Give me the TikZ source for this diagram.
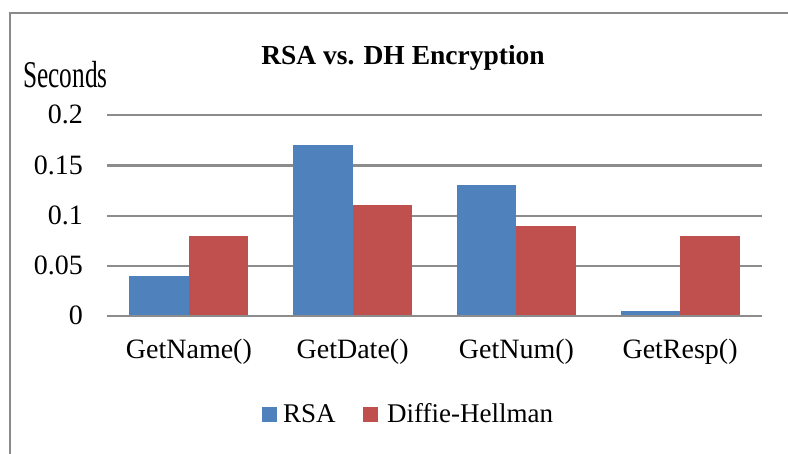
\documentclass[tikz,border=0pt]{standalone}
\usepackage{fontspec}
\setmainfont{Liberation Serif}
\definecolor{rsablue}{HTML}{4F81BD}
\definecolor{dhred}{HTML}{C0504D}
\definecolor{gridgray}{HTML}{8C8C8C}
\definecolor{framegray}{HTML}{8A8A8A}
\tikzset{
  gridline/.style={draw=gridgray, line width=2.2pt},
  rsabar/.style={fill=rsablue},
  dhbar/.style={fill=dhred},
  ticklab/.style={anchor=base east, inner sep=0pt, font=\fontsize{28}{30}\selectfont},
  catlab/.style={anchor=base, inner sep=0pt, font=\fontsize{28}{30}\selectfont},
  leglab/.style={anchor=base west, inner sep=0pt, font=\fontsize{27}{30}\selectfont},
}
\begin{document}
\begin{tikzpicture}[x=1pt,y=-1pt]
\useasboundingbox (0,0) rectangle (788,454);
\fill[white] (0,0) rectangle (788,454);
% frame
\draw[framegray, line width=2.5pt] (10,454) -- (10,13) -- (788,13);
% gridlines
\foreach \v/\yy in {0.05/266,0.1/216,0.15/165.5,0.2/115}{
  \draw[gridline] (107,\yy) -- (762,\yy);
}
% bars: centres 188.9, 352.6, 516.4, 680.1 ; scale 1005 px/unit ; base 316
\def\bw{59.5}
\foreach \c/\r/\d in {188.9/0.04/0.08, 352.6/0.17/0.11, 516.4/0.13/0.09, 680.1/0.005/0.08}{
  \fill[rsabar] (\c-\bw,316) rectangle (\c,316-1005*\r);
  \fill[dhbar] (\c,316) rectangle (\c+\bw,316-1005*\d);
}
\draw[gridline] (107,316) -- (762,316);
% tick labels
\node[ticklab] (t0) at (83,325) {0};
\node[ticklab] (t1) at (83,275) {0.05};
\node[ticklab] (t2) at (83,225) {0.1};
\node[ticklab] (t3) at (83,174.5) {0.15};
\node[ticklab] (t4) at (83,124) {0.2};
% category labels
\node[catlab] (c1) at (188.9,359) {GetName()};
\node[catlab] (c2) at (352.6,359) {GetDate()};
\node[catlab] (c3) at (516.4,359) {GetNum()};
\node[catlab] (c4) at (680.1,359) {GetResp()};
% title
\node[anchor=base, inner sep=0pt, font=\fontsize{27.5}{30}\selectfont\bfseries] (title) at (403,65) {RSA vs. DH Encryption};
% axis title
\node[anchor=base west, inner sep=0pt, font=\fontsize{37.8}{40}\selectfont] (ytitle) at (23,88) {\scalebox{0.67}[1]{Seconds}};
% legend
\fill[rsabar] (262,407) rectangle (277,422);
\node[leglab] (l1) at (283,423) {RSA};
\fill[dhbar] (363,407) rectangle (378,422);
\node[leglab] (l2) at (387,423) {Diffie-Hellman};
\end{tikzpicture}
\end{document}
